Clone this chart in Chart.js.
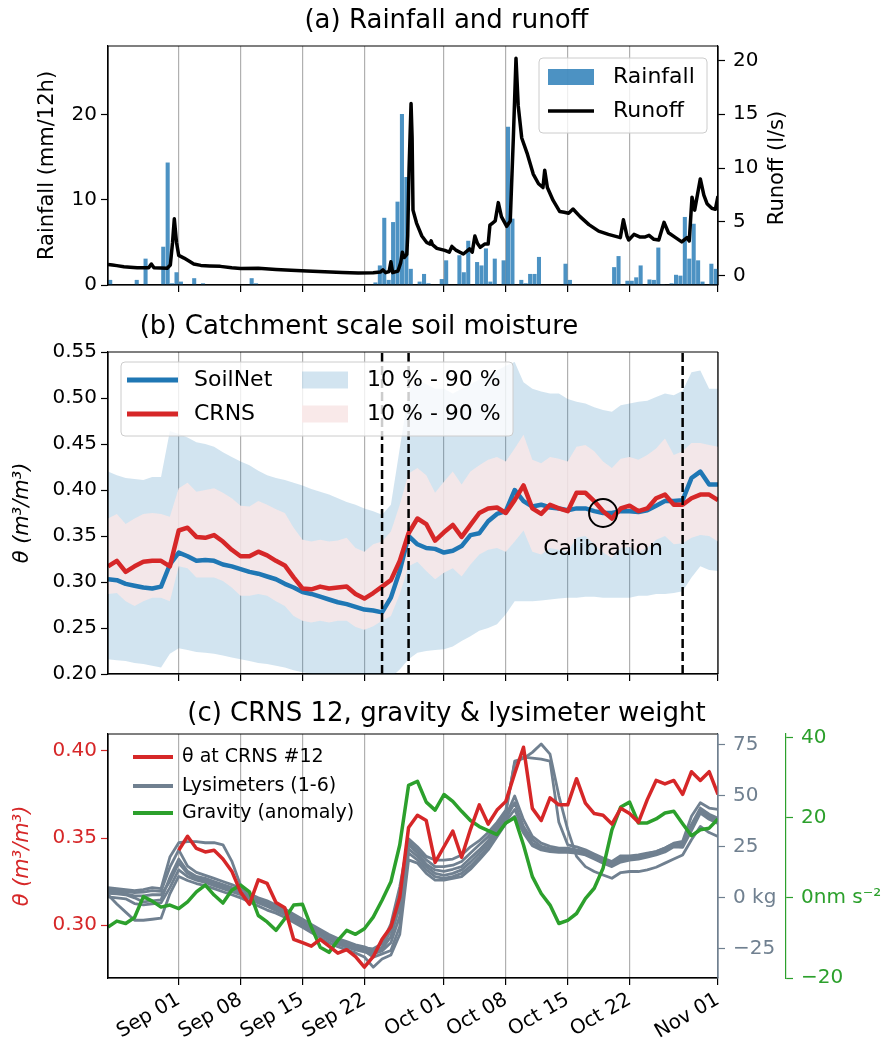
<!DOCTYPE html>
<html>
<head>
<meta charset="utf-8">
<script src="https://cdn.jsdelivr.net/npm/chart.js@4.4.0/dist/chart.umd.min.js"></script>
<style>
  body { margin: 0; background: #fff; width: 893px; height: 1044px; position: relative; overflow: hidden; }
  canvas { position: absolute; left: 0; }
</style>
</head>
<body>
<canvas id="rain" width="893" height="305" style="top:0px"></canvas>
<canvas id="soil" width="893" height="385" style="top:305px"></canvas>
<canvas id="lysi" width="893" height="354" style="top:690px"></canvas>
<script>
// day 0 = Aug 24, day 69 = Nov 01
const tickDays = [8, 15, 22, 29, 38, 45, 52, 59, 69];
const tickLabels = ['Sep 01', 'Sep 08', 'Sep 15', 'Sep 22', 'Oct 01', 'Oct 08', 'Oct 15', 'Oct 22', 'Nov 01'];

// (a) rainfall per 12 h (mm), starting Aug 24 00:00
const rainfall = [
  0.6, 0, 0, 0, 0, 0, 0.6, 0, 3.1, 0,
  0, 0, 4.5, 14.4, 0.2, 1.5, 0.4, 0, 0, 0.8,
  0, 0.2, 0, 0, 0, 0, 0, 0, 0, 0,
  0, 0, 0.8, 0.2, 0, 0, 0, 0, 0, 0,
  0, 0, 0, 0, 0, 0, 0, 0, 0, 0,
  0, 0, 0, 0, 0, 0, 0, 0, 0, 0,
  0.3, 2.3, 7.9, 0.6, 7.4, 9.8, 20.1, 12.7, 1.9, 0,
  0.4, 1.3, 0.2, 0, 0, 0.7, 2.9, 0, 0, 3.5,
  1.5, 5.2, 0, 2.7, 2.3, 4.3, 0.4, 3.1, 0, 2.9,
  18.6, 7.8, 0, 0.6, 0.2, 1.3, 1.3, 3.3, 0, 0,
  0, 0, 0, 2.5, 0.6, 0, 0, 0, 0, 0,
  0, 0, 0, 0, 2.1, 3.4, 0, 0.5, 0.5, 0.9,
  2.3, 0, 0.65, 0.6, 4.4, 0.1, 0, 0.2, 1.2, 1.1,
  8.0, 3.1, 7.2, 2.9, 0.4, 0, 2.5, 1.9
];

// (a) runoff (l/s)
const runoffDays = [
  0, 0.5, 1, 1.8, 2.5, 3.3, 4.6, 4.9, 5.2, 6, 6.7, 7.05, 7.3, 7.5, 7.75, 8.0, 8.6, 9.2, 9.7, 10.5,
  11.5, 12.7, 14, 15, 17, 19, 20.7, 22.5, 24.5, 26.5, 28.3, 30, 30.8, 31.1, 31.4, 31.8, 32.0, 32.2, 32.8, 33.1,
  33.3, 33.5, 33.8, 33.9, 34.05, 34.28, 34.4, 34.5, 34.9, 35.5, 36.05, 36.4, 36.55, 36.7, 37.2, 38.1, 38.6, 38.9, 39.4, 40.2,
  40.9, 41.2, 41.5, 41.8, 42.1, 42.6, 43.0, 43.2, 43.5, 43.8, 44.15, 44.5, 45.1, 45.5, 45.85, 46.15, 46.4, 46.8, 47.4, 48.1,
  48.7, 49.2, 49.4, 49.7, 50.35, 51.1, 51.6, 52.1, 52.6, 53.4, 54.4, 55.5, 56.6, 57.95, 58.3, 58.7, 58.9, 59.5, 60.2, 60.7,
  61.2, 61.75, 62.3, 62.9, 63.4, 64.2, 64.9, 65.5, 65.75, 66.06, 66.36, 67.0, 67.4, 67.76, 68.3, 68.7, 69.0
];
const runoff = [
  1.05, 1.0, 0.95, 0.85, 0.8, 0.75, 0.75, 1.1, 0.75, 0.72, 0.7, 1.0, 3.1, 5.3, 3.1, 1.9, 1.65, 1.35, 1.1, 0.97,
  0.92, 0.88, 0.75, 0.68, 0.7, 0.6, 0.52, 0.45, 0.37, 0.3, 0.26, 0.28, 0.35, 0.55, 0.3, 0.4, 1.3, 0.3, 0.45, 1.2,
  2.2, 1.7, 2.0, 3.7, 9.8, 16.0, 12.8, 6.1, 4.9, 3.7, 3.1, 2.95, 3.25, 2.9, 2.55, 2.36, 2.2, 2.73, 2.36, 2.03,
  2.5, 2.2, 3.7, 3.0, 2.65, 2.95, 2.95, 4.7, 4.9, 5.1, 6.8, 5.5, 4.6, 5.1, 12.8, 20.2, 15.8, 12.8, 11.4, 9.45,
  8.55, 8.2, 9.8, 8.2, 7.0, 5.97, 5.9, 5.82, 6.2, 5.5, 4.76, 4.15, 3.85, 3.55, 5.2, 3.7, 3.33, 3.85, 3.6, 3.6,
  3.76, 3.39, 3.33, 4.97, 4.0, 3.55, 3.15, 3.55, 3.24, 7.3, 6.1, 9.0, 7.5, 6.7, 6.27, 6.18, 7.4
];
const rainTicks = [0, 10, 20];
const runoffTicks = [0, 5, 10, 15, 20];

// (b) catchment soil moisture, daily (m3/m3)
const soilNet = [
  0.303, 0.302, 0.298, 0.296, 0.294, 0.293, 0.295, 0.319, 0.332, 0.328,
  0.323, 0.324, 0.323, 0.319, 0.317, 0.314, 0.311, 0.309, 0.306, 0.303,
  0.298, 0.294, 0.289, 0.287, 0.284, 0.281, 0.278, 0.276, 0.273, 0.270,
  0.269, 0.267, 0.283, 0.312, 0.350, 0.341, 0.337, 0.336, 0.332, 0.334,
  0.339, 0.351, 0.353, 0.366, 0.374, 0.377, 0.400, 0.388, 0.382, 0.384,
  0.381, 0.380, 0.378, 0.380, 0.380, 0.377, 0.375, 0.375, 0.377, 0.377,
  0.376, 0.378, 0.383, 0.388, 0.388, 0.389, 0.413, 0.420, 0.406, 0.406
];
const soilNetP90 = [
  0.420, 0.416, 0.413, 0.412, 0.411, 0.414, 0.414, 0.464, 0.461, 0.457,
  0.452, 0.450, 0.447, 0.441, 0.436, 0.431, 0.427, 0.421, 0.416, 0.413,
  0.411, 0.408, 0.405, 0.401, 0.398, 0.395, 0.391, 0.387, 0.384, 0.380,
  0.377, 0.373, 0.384, 0.445, 0.506, 0.520, 0.515, 0.510, 0.510, 0.505,
  0.510, 0.515, 0.520, 0.525, 0.530, 0.535, 0.539, 0.517, 0.510, 0.507,
  0.505, 0.505, 0.499, 0.496, 0.494, 0.490, 0.487, 0.485, 0.492, 0.494,
  0.496, 0.497, 0.501, 0.505, 0.503, 0.508, 0.528, 0.530, 0.510, 0.510
];
const soilNetP10 = [
  0.216, 0.215, 0.214, 0.212, 0.211, 0.209, 0.207, 0.222, 0.228, 0.226,
  0.224, 0.223, 0.222, 0.220, 0.218, 0.216, 0.214, 0.212, 0.211, 0.209,
  0.207, 0.204, 0.202, 0.200, 0.198, 0.196, 0.195, 0.194, 0.193, 0.192,
  0.192, 0.192, 0.196, 0.205, 0.216, 0.223, 0.225, 0.226, 0.227, 0.230,
  0.236, 0.241, 0.247, 0.250, 0.254, 0.265, 0.279, 0.279, 0.279, 0.280,
  0.281, 0.282, 0.283, 0.283, 0.284, 0.284, 0.283, 0.283, 0.283, 0.283,
  0.285, 0.285, 0.287, 0.287, 0.288, 0.290, 0.305, 0.317, 0.313, 0.312
];
const crns = [
  0.317, 0.323, 0.311, 0.317, 0.322, 0.323, 0.323, 0.317, 0.356, 0.359,
  0.349, 0.348, 0.351, 0.344, 0.335, 0.328, 0.328, 0.333, 0.329, 0.323,
  0.318, 0.305, 0.293, 0.292, 0.295, 0.293, 0.294, 0.295, 0.287, 0.282,
  0.288, 0.295, 0.302, 0.323, 0.353, 0.369, 0.363, 0.345, 0.354, 0.362,
  0.349, 0.362, 0.375, 0.380, 0.381, 0.375, 0.389, 0.405, 0.380, 0.374,
  0.384, 0.380, 0.377, 0.397, 0.397, 0.388, 0.377, 0.369, 0.380, 0.383,
  0.377, 0.380, 0.391, 0.395, 0.384, 0.384, 0.391, 0.395, 0.395, 0.389
];
const crnsP90 = [
  0.369, 0.374, 0.363, 0.369, 0.374, 0.375, 0.374, 0.371, 0.402, 0.408,
  0.398, 0.400, 0.402, 0.397, 0.391, 0.383, 0.382, 0.388, 0.384, 0.379,
  0.375, 0.359, 0.346, 0.344, 0.346, 0.344, 0.345, 0.348, 0.337, 0.333,
  0.341, 0.344, 0.355, 0.384, 0.418, 0.424, 0.416, 0.397, 0.409, 0.420,
  0.406, 0.420, 0.427, 0.433, 0.436, 0.431, 0.445, 0.460, 0.433, 0.429,
  0.436, 0.434, 0.431, 0.447, 0.449, 0.442, 0.431, 0.424, 0.434, 0.436,
  0.433, 0.438, 0.445, 0.456, 0.438, 0.442, 0.451, 0.451, 0.449, 0.447
];
const crnsP10 = [
  0.287, 0.288, 0.279, 0.274, 0.279, 0.283, 0.283, 0.279, 0.317, 0.315,
  0.305, 0.305, 0.305, 0.301, 0.294, 0.285, 0.285, 0.287, 0.285, 0.279,
  0.274, 0.263, 0.258, 0.256, 0.258, 0.256, 0.258, 0.258, 0.251, 0.248,
  0.252, 0.258, 0.263, 0.287, 0.317, 0.322, 0.312, 0.303, 0.310, 0.315,
  0.306, 0.319, 0.330, 0.335, 0.337, 0.333, 0.344, 0.356, 0.333, 0.330,
  0.337, 0.335, 0.333, 0.348, 0.350, 0.341, 0.332, 0.326, 0.337, 0.338,
  0.333, 0.337, 0.346, 0.350, 0.341, 0.342, 0.348, 0.351, 0.350, 0.344
];
const markDays = [31, 34, 65];
const calibration = { day: 56, theta: 0.375, label: 'Calibration', labelTheta: 0.336 };
const soilTicks = [0.20, 0.25, 0.30, 0.35, 0.40, 0.45, 0.50, 0.55];

// (c) CRNS #12 from Sep 01 (day 8), lysimeters (kg), gravity anomaly (nm s-2)
const crns12Start = 8;
const crns12 = [
  0.343, 0.351, 0.344, 0.342, 0.343, 0.338, 0.331, 0.319, 0.312, 0.326,
  0.324, 0.313, 0.310, 0.292, 0.290, 0.288, 0.292, 0.288, 0.284, 0.286,
  0.282, 0.276, 0.282, 0.292, 0.299, 0.316, 0.356, 0.363, 0.360, 0.336,
  0.345, 0.354, 0.339, 0.355, 0.369, 0.358, 0.366, 0.371, 0.387, 0.402,
  0.367, 0.360, 0.373, 0.369, 0.369, 0.384, 0.370, 0.364, 0.363, 0.358,
  0.367, 0.364, 0.359, 0.372, 0.383, 0.381, 0.383, 0.375, 0.388, 0.383,
  0.388, 0.375
];
const lys1 = [
  5.0, 4.5, 4.0, 3.5, 4.0, 5.0, 4.5, 20.0, 27.0, 27.5,
  27.5, 27.0, 27.0, 26.0, 18.0, 6.0, 1.0, -0.5, -2.0, -4.0,
  -6.0, -8.5, -11.0, -13.5, -16.0, -18.5, -20.5, -22.0, -23.5, -24.5,
  -25.0, -22.5, -12.7, 5.4, 29.0, 25.0, 20.3, 18.5, 18.5, 19.0,
  21.0, 25.0, 28.0, 32.0, 37.0, 43.0, 66.0, 69.0, 68.5, 68.0,
  67.0, 37.0, 26.0, 25.0, 23.5, 21.5, 19.5, 17.8, 20.6, 20.6,
  21.0, 21.9, 22.7, 24.4, 26.8, 27.7, 40.0, 46.6, 44.0, 43.3
];
const lys2 = [
  4.0, 3.5, 3.0, 2.5, 2.8, 3.5, 3.2, 15.0, 23.5, 15.5,
  12.5, 11.0, 9.5, 8.0, 6.5, 4.5, 2.0, 0.0, -1.5, -3.5,
  -5.5, -8.0, -10.5, -13.0, -15.5, -18.0, -20.0, -21.5, -23.0, -24.0,
  -25.8, -24.2, -16.0, 0.5, 27.5, 23.5, 18.6, 15.3, 15.3, 16.0,
  17.8, 22.0, 26.0, 30.0, 35.5, 41.5, 67.0, 68.3, 71.3, 75.4,
  70.4, 50.0, 33.4, 20.3, 15.3, 12.9, 11.2, 9.6, 12.4, 12.9,
  12.9, 13.7, 15.0, 17.0, 19.0, 21.0, 28.5, 35.0, 32.0, 30.1
];
const lys3 = [
  2.2, 2.0, 1.5, 0.0, -2.0, -1.5, -1.0, 10.0, 19.0, 13.0,
  10.5, 9.5, 8.0, 6.5, 5.0, 3.0, 1.0, -1.0, -2.8, -5.0,
  -7.0, -9.5, -12.0, -14.5, -17.0, -19.5, -21.5, -23.0, -24.5, -25.5,
  -26.5, -25.0, -19.0, -4.0, 26.0, 22.0, 16.5, 13.7, 13.0, 14.0,
  15.3, 19.5, 23.5, 28.0, 34.0, 40.0, 49.9, 38.3, 30.1, 26.8,
  25.2, 24.4, 24.4, 23.5, 22.7, 20.6, 18.6, 17.0, 19.5, 20.0,
  20.5, 21.5, 22.7, 24.4, 26.5, 27.0, 36.0, 44.0, 41.0, 39.0
];
const lys4 = [
  0.5, 0.0, -0.5, -2.8, -3.5, -3.0, -2.5, 5.0, 13.7, 10.4,
  8.7, 7.5, 6.0, 4.5, 3.0, 1.5, -0.5, -2.5, -4.2, -6.2,
  -8.2, -10.8, -13.3, -15.8, -18.3, -20.7, -22.7, -24.2, -25.5, -26.5,
  -27.5, -26.0, -22.0, -9.0, 24.0, 20.3, 15.3, 12.0, 11.0, 12.0,
  13.7, 17.5, 21.9, 26.5, 32.5, 39.0, 46.6, 35.0, 28.5, 25.2,
  24.0, 23.5, 23.8, 23.0, 22.0, 20.0, 18.0, 16.5, 18.8, 19.5,
  20.0, 21.0, 22.0, 23.5, 26.0, 26.3, 35.0, 43.3, 40.5, 38.3
];
const lys5 = [
  3.0, 2.5, 2.0, 1.0, 1.0, 1.5, 1.5, 8.0, 17.0, 12.0,
  9.5, 8.5, 7.0, 5.5, 4.0, 2.0, 0.0, -1.8, -3.5, -5.5,
  -7.5, -10.0, -12.5, -15.0, -17.5, -20.0, -22.0, -23.6, -25.0, -26.0,
  -29.1, -27.5, -25.8, -14.0, 21.9, 18.6, 13.7, 10.4, 9.5, 10.4,
  12.0, 15.5, 20.0, 25.0, 31.0, 37.5, 43.3, 33.4, 26.8, 24.4,
  23.5, 23.0, 23.0, 22.5, 21.5, 19.5, 17.5, 16.0, 18.0, 19.0,
  19.5, 20.5, 21.5, 23.0, 25.5, 25.5, 34.0, 42.5, 39.5, 37.5
];
const lys6 = [
  1.5, -3.0, -7.0, -11.0, -11.0, -10.5, -10.0, 2.0, 10.5, 8.5,
  7.0, 6.0, 4.5, 3.0, 1.5, 0.0, -2.0, -4.0, -6.0, -7.5,
  -9.5, -12.0, -14.5, -17.0, -19.5, -22.0, -24.0, -25.5, -27.0, -29.0,
  -34.0, -30.0, -28.0, -18.0, 18.6, 17.0, 12.0, 8.7, 8.7, 9.5,
  10.4, 14.0, 18.6, 23.5, 30.0, 36.5, 40.0, 31.8, 25.5, 23.5,
  22.7, 22.3, 22.3, 21.9, 21.0, 19.0, 17.0, 15.3, 17.5, 18.5,
  19.0, 20.0, 21.0, 22.5, 25.0, 24.8, 33.0, 41.5, 38.5, 36.5
];
const gravity = [
  -7.3, -5.8, -6.4, -4.9, 0.3, -0.8, -2.3, -1.8, -2.7, -1.0,
  1.5, 3.2, 0.7, -1.3, 1.9, 3.2, 1.5, -4.4, -6.0, -8.1,
  -5.2, -1.8, -1.6, -7.3, -12.3, -13.6, -10.6, -8.1, -9.1, -7.7,
  -4.8, -0.6, 4.0, 13.2, 28.1, 29.1, 23.9, 21.9, 25.8, 24.1,
  21.6, 19.3, 17.8, 16.8, 15.8, 18.7, 20.0, 13.2, 5.3, 1.1,
  -1.8, -6.4, -5.6, -3.9, -0.2, 2.4, 7.4, 17.0, 22.7, 23.9,
  18.7, 18.7, 19.7, 21.2, 21.6, 18.5, 15.5, 17.0, 17.4, 19.7
];
const thetaTicks = [0.30, 0.35, 0.40];
const lysTicks = [-25, 0, 25, 50, 75];
const lysTickLabels = ['\u221225', '0 kg', '25', '50', '75'];
const gravTicks = [-20, 0, 20, 40];
const gravTickLabels = ['\u221220', '0nm s\u207B\u00B2', '20', '40'];

const BLUE = '#1f77b4', RED = '#d62728', GREEN = '#2ca02c', SLATE = '#708090';
const FONT = 'DejaVu Sans';

Chart.defaults.font.family = FONT;
Chart.defaults.color = '#000';
Chart.defaults.animation = false;

const daily = arr => arr.map((v, i) => ({ x: i, y: v }));

// draws the axes box like matplotlib spines
const frame = {
  id: 'frame',
  afterDraw(chart, args, opts) {
    const { ctx, chartArea: a } = chart;
    ctx.save();
    ctx.lineWidth = 1.2;
    ctx.strokeStyle = '#000';
    ctx.beginPath();
    ctx.moveTo(a.right, a.top);
    ctx.lineTo(a.left, a.top);
    ctx.lineTo(a.left, a.bottom);
    ctx.lineTo(a.right, a.bottom);
    ctx.stroke();
    ctx.strokeStyle = opts.right || '#000';
    ctx.beginPath();
    ctx.moveTo(a.right, a.top);
    ctx.lineTo(a.right, a.bottom);
    ctx.stroke();
    ctx.restore();
  }
};

// legend drawn inside the axes
const boxLegend = {
  id: 'boxLegend',
  afterDraw(chart, args, o) {
    if (!o.items) return;
    const ctx = chart.ctx;
    ctx.save();
    if (o.box) {
      const b = o.box;
      ctx.beginPath();
      if (ctx.roundRect) ctx.roundRect(b.x, b.y, b.w, b.h, 4); else ctx.rect(b.x, b.y, b.w, b.h);
      ctx.fillStyle = 'rgba(255,255,255,0.8)';
      ctx.fill();
      ctx.strokeStyle = '#cccccc';
      ctx.lineWidth = 1;
      ctx.stroke();
    }
    ctx.font = o.size + 'px "' + FONT + '"';
    ctx.textBaseline = 'middle';
    ctx.textAlign = 'left';
    o.items.forEach(it => {
      if (it.patch) {
        ctx.fillStyle = it.color;
        ctx.fillRect(it.x, it.y - it.h / 2, it.w, it.h);
      } else {
        ctx.strokeStyle = it.color;
        ctx.lineWidth = it.lw;
        ctx.beginPath();
        ctx.moveTo(it.x, it.y);
        ctx.lineTo(it.x + it.w, it.y);
        ctx.stroke();
      }
      ctx.fillStyle = '#000';
      ctx.fillText(it.label, it.tx, it.y);
    });
    ctx.restore();
  }
};

// free text: right axis title, annotation
const notes = {
  id: 'notes',
  afterDraw(chart, args, o) {
    if (!o.items) return;
    const ctx = chart.ctx;
    o.items.forEach(n => {
      let x = n.x, y = n.y;
      if (n.scaleX) x = chart.scales[n.scaleX].getPixelForValue(n.vx);
      if (n.scaleY) y = chart.scales[n.scaleY].getPixelForValue(n.vy);
      ctx.save();
      ctx.translate(x, y);
      if (n.rot) ctx.rotate(n.rot);
      ctx.font = n.size + 'px "' + FONT + '"';
      ctx.fillStyle = n.color || '#000';
      ctx.textAlign = 'center';
      ctx.textBaseline = 'middle';
      ctx.fillText(n.text, 0, 0);
      ctx.restore();
    });
  }
};

function xAxis(showLabels, height) {
  return {
    type: 'linear', min: 0, max: 69, offset: false,
    afterBuildTicks: s => { s.ticks = tickDays.map(v => ({ value: v })); },
    afterFit: s => { s.height = height; },
    grid: { color: '#b0b0b0', lineWidth: 1.2, tickColor: '#000', tickWidth: 1.2, tickLength: 7, offset: false },
    border: { color: '#000', width: 1.2 },
    ticks: {
      display: showLabels, autoSkip: false, minRotation: 30, maxRotation: 30, padding: 3,
      font: { size: 20 }, color: '#000',
      callback: v => tickLabels[tickDays.indexOf(v)]
    }
  };
}

function yAxis(o) {
  return {
    type: 'linear', position: o.position || 'left', min: o.min, max: o.max,
    afterBuildTicks: s => { s.ticks = o.ticks.map(v => ({ value: v })); },
    afterFit: s => { s.width = o.width; },
    grid: { drawOnChartArea: false, tickColor: o.color || '#000', tickWidth: 1.2, tickLength: 7 },
    border: { color: o.border || o.color || '#000', width: 1.2 },
    ticks: {
      font: { size: 20 }, color: o.color || '#000', padding: o.pad || 4,
      callback: o.labels ? (v => o.labels[o.ticks.indexOf(v)]) : (v => o.fmt ? v.toFixed(o.fmt) : String(v))
    },
    title: o.title ? {
      display: true, text: o.title, color: o.color || '#000',
      font: { size: 21, style: o.italic ? 'italic' : 'normal' }, padding: { top: o.titlePad, bottom: 0 }
    } : { display: false }
  };
}

const basePlugins = (titleText, padTop, padBottom) => ({
  legend: { display: false },
  tooltip: { enabled: false },
  title: {
    display: true, text: titleText, color: '#000',
    font: { size: 26, weight: 'normal' }, padding: { top: padTop, bottom: padBottom }
  }
});

// ---------- (a) Rainfall and runoff ----------
new Chart(document.getElementById('rain'), {
  type: 'bar',
  data: {
    datasets: [
      {
        type: 'line', label: 'Runoff', yAxisID: 'yR',
        data: runoffDays.map((d, i) => ({ x: d, y: runoff[i] })),
        borderColor: '#000', borderWidth: 3.5, pointRadius: 0, tension: 0,
        borderJoinStyle: 'round', order: 0
      },
      {
        type: 'bar', label: 'Rainfall', yAxisID: 'y',
        data: rainfall.map((v, i) => ({ x: 0.25 + 0.5 * i, y: v })),
        backgroundColor: 'rgba(31,119,180,0.8)', borderWidth: 0,
        barPercentage: 0.92, categoryPercentage: 1.0, order: 1
      }
    ]
  },
  options: {
    responsive: false, devicePixelRatio: 1, events: [],
    layout: { padding: { left: 0, right: 0, top: 0, bottom: 0 } },
    scales: {
      x: xAxis(false, 15),
      y: yAxis({ min: 0, max: 28.1, ticks: rainTicks, width: 108, title: 'Rainfall (mm/12h)', titlePad: 35 }),
      yR: yAxis({ position: 'right', min: -0.85, max: 21.34, ticks: runoffTicks, width: 175, pad: 8 })
    },
    plugins: {
      ...basePlugins('(a) Rainfall and runoff', 5.4, 9.4),
      frame: {},
      boxLegend: {
        size: 22,
        box: { x: 539, y: 58, w: 168, h: 75 },
        items: [
          { patch: true, color: 'rgba(31,119,180,0.8)', x: 548, y: 77, w: 46, h: 16, label: 'Rainfall', tx: 613 },
          { color: '#000', lw: 3.5, x: 548, y: 111, w: 46, label: 'Runoff', tx: 613 }
        ]
      },
      notes: { items: [{ text: 'Runoff (l/s)', x: 778, y: 168, rot: -Math.PI / 2, size: 21 }] }
    }
  },
  plugins: [frame, boxLegend, notes]
});

// ---------- (b) Catchment scale soil moisture ----------
const bandBlue = 'rgba(31,119,180,0.2)';
const bandPink = 'rgba(249,232,232,0.85)';
new Chart(document.getElementById('soil'), {
  type: 'line',
  data: {
    datasets: [
      { label: 'SoilNet 90', data: daily(soilNetP90), borderWidth: 0, pointRadius: 0, fill: '+1', backgroundColor: bandBlue, order: 6 },
      { label: 'SoilNet 10', data: daily(soilNetP10), borderWidth: 0, pointRadius: 0, fill: false, order: 7 },
      { label: 'CRNS 90', data: daily(crnsP90), borderWidth: 0, pointRadius: 0, fill: '+1', backgroundColor: bandPink, order: 4 },
      { label: 'CRNS 10', data: daily(crnsP10), borderWidth: 0, pointRadius: 0, fill: false, order: 5 },
      { label: 'SoilNet', data: daily(soilNet), borderColor: BLUE, borderWidth: 4.5, pointRadius: 0, borderJoinStyle: 'round', order: 3 },
      { label: 'CRNS', data: daily(crns), borderColor: RED, borderWidth: 4.5, pointRadius: 0, borderJoinStyle: 'round', order: 2 },
      ...markDays.map(d => ({
        label: 'mark', data: [{ x: d, y: 0.2 }, { x: d, y: 0.55 }],
        borderColor: '#000', borderWidth: 2.5, borderDash: [9, 4], pointRadius: 0, order: 1
      })),
      {
        label: 'calibration', data: [{ x: calibration.day, y: calibration.theta }], showLine: false,
        pointRadius: 14, pointBorderWidth: 2, pointBorderColor: '#000', pointBackgroundColor: 'rgba(0,0,0,0)', order: 0
      }
    ]
  },
  options: {
    responsive: false, devicePixelRatio: 1, events: [],
    layout: { padding: { left: 0, right: 175, top: 0, bottom: 0 } },
    scales: {
      x: xAxis(false, 14),
      y: yAxis({ min: 0.2, max: 0.55, ticks: soilTicks, fmt: 2, width: 108, title: '\u03B8 (m\u00B3/m\u00B3)', titlePad: 10, italic: true })
    },
    plugins: {
      ...basePlugins('(b) Catchment scale soil moisture', 6.4, 9.4),
      frame: {},
      boxLegend: {
        size: 22,
        box: { x: 121, y: 57, w: 392, h: 74 },
        items: [
          { color: BLUE, lw: 5, x: 127, y: 75, w: 51, label: 'SoilNet', tx: 194 },
          { color: RED, lw: 5, x: 127, y: 109, w: 51, label: 'CRNS', tx: 194 },
          { patch: true, color: bandBlue, x: 302, y: 75, w: 46, h: 17, label: '10 % - 90 %', tx: 367 },
          { patch: true, color: '#f9e9e9', x: 302, y: 109, w: 46, h: 17, label: '10 % - 90 %', tx: 367 }
        ]
      },
      notes: { items: [{ text: calibration.label, scaleX: 'x', vx: calibration.day, scaleY: 'y', vy: calibration.labelTheta, size: 22 }] }
    }
  },
  plugins: [frame, boxLegend, notes]
});

// ---------- (c) CRNS 12, gravity & lysimeter weight ----------
const lysSeries = [lys1, lys2, lys3, lys4, lys5, lys6];
new Chart(document.getElementById('lysi'), {
  type: 'line',
  data: {
    datasets: [
      {
        label: '\u03B8 at CRNS #12', yAxisID: 'yT',
        data: crns12.map((v, i) => ({ x: crns12Start + i, y: v })),
        borderColor: RED, borderWidth: 3.5, pointRadius: 0, borderJoinStyle: 'round', order: 0
      },
      {
        label: 'Gravity (anomaly)', yAxisID: 'yG', data: daily(gravity),
        borderColor: GREEN, borderWidth: 3.5, pointRadius: 0, borderJoinStyle: 'round', order: 1
      },
      ...lysSeries.map((s, k) => ({
        label: 'Lysimeter ' + (k + 1), yAxisID: 'yL', data: daily(s),
        borderColor: SLATE, borderWidth: 2.8, pointRadius: 0, borderJoinStyle: 'round', order: 2 + k
      }))
    ]
  },
  options: {
    responsive: false, devicePixelRatio: 1, events: [],
    layout: { padding: { left: 0, right: 0, top: 0, bottom: 0 } },
    scales: {
      x: xAxis(true, 66),
      yT: yAxis({ min: 0.2698, max: 0.4096, ticks: thetaTicks, fmt: 2, width: 108, color: RED, border: '#000',
                  title: '\u03B8 (m\u00B3/m\u00B3)', titlePad: 10, italic: true }),
      yL: yAxis({ position: 'right', min: -39.3, max: 80.3, ticks: lysTicks, labels: lysTickLabels, width: 68, color: SLATE, pad: 8 }),
      yG: yAxis({ position: 'right', min: -20, max: 40.9, ticks: gravTicks, labels: gravTickLabels, width: 107, color: GREEN, pad: 8 })
    },
    plugins: {
      ...basePlugins('(c) CRNS 12, gravity & lysimeter weight', 8.4, 4.4),
      frame: { right: SLATE },
      boxLegend: {
        size: 19,
        items: [
          { color: RED, lw: 4, x: 133, y: 67, w: 40, label: '\u03B8 at CRNS #12', tx: 182 },
          { color: SLATE, lw: 4, x: 133, y: 96, w: 40, label: 'Lysimeters (1-6)', tx: 182 },
          { color: GREEN, lw: 4, x: 133, y: 123, w: 40, label: 'Gravity (anomaly)', tx: 182 }
        ]
      }
    }
  },
  plugins: [frame, boxLegend]
});
</script>
</body>
</html>
